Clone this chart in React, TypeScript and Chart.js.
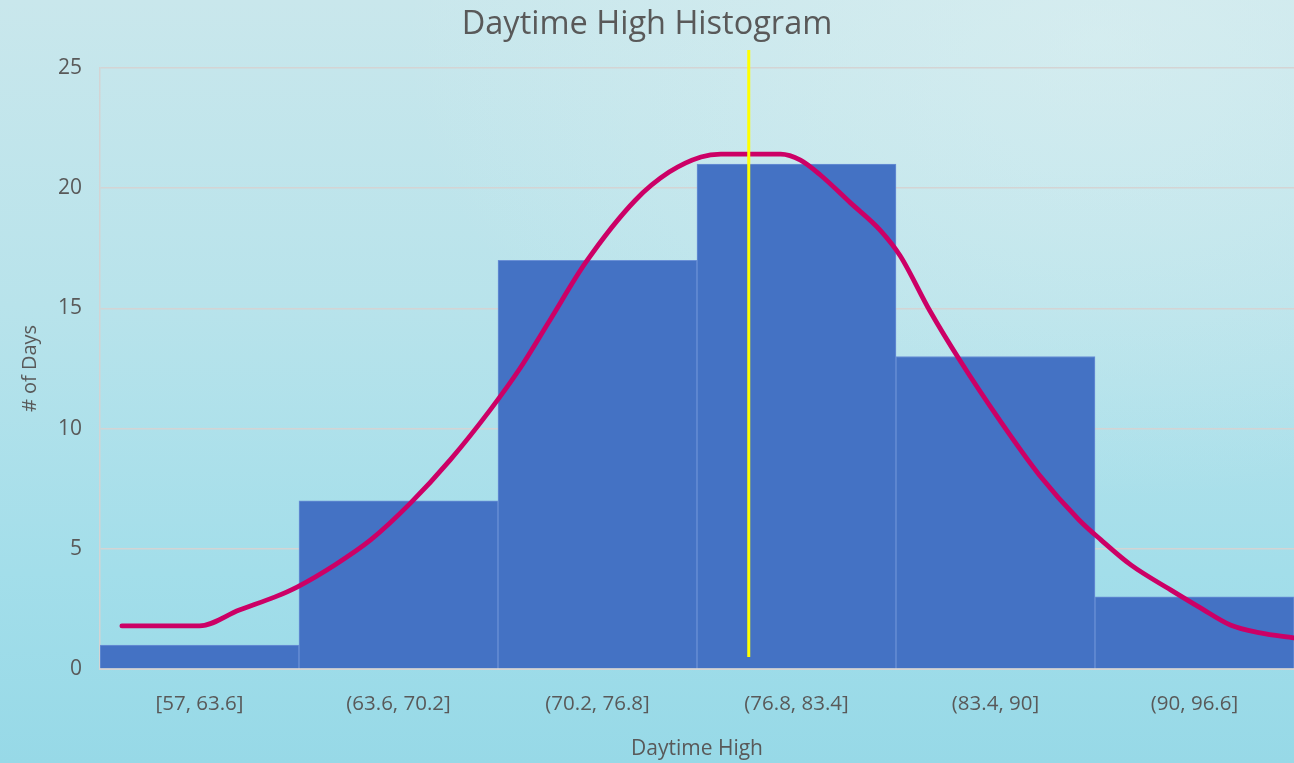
import React, { useEffect, useRef } from "react";
import { Chart, registerables } from "chart.js";

Chart.register(...registerables);

const categories = ["[57, 63.6]", "(63.6, 70.2]", "(70.2, 76.8]", "(76.8, 83.4]", "(83.4, 90]", "(90, 96.6]"];
const counts = [1, 7, 17, 21, 13, 3];

// Hand-drawn normal curve overlay (x in bin units 0..6, y in # of days)
const curveX = [0.11, 0.5, 0.7, 0.88, 0.99, 1.18, 1.36, 1.56, 1.76, 1.96, 2.11, 2.26, 2.44, 2.69, 2.86, 3.02, 3.12, 3.42, 3.52, 3.62, 3.77, 3.92, 4.02, 4.17, 4.32, 4.52, 4.72, 4.92, 5.03, 5.18, 5.38, 5.53, 5.68, 5.83, 6.0];
const curveY = [1.79, 1.79, 2.45, 3.0, 3.41, 4.33, 5.37, 6.9, 8.7, 10.77, 12.5, 14.5, 16.9, 19.5, 20.67, 21.3, 21.42, 21.42, 21.17, 20.55, 19.4, 18.26, 17.2, 14.9, 12.85, 10.36, 8.07, 6.2, 5.37, 4.33, 3.29, 2.54, 1.83, 1.5, 1.29];

// Mean marker line
const meanX = 3.26;
const meanLineY = [0.5, 25.75];

const yTicks = [0, 5, 10, 15, 20, 25];

const FONT = "'Open Sans', 'Noto Sans', sans-serif";
const GREY = "#595959";

export default function App() {
  const ref = useRef<HTMLCanvasElement>(null);

  useEffect(() => {
    if (!ref.current) return;
    const chart = new Chart(ref.current, {
      type: "bar",
      data: {
        labels: categories,
        datasets: [
          {
            type: "bar",
            data: counts,
            backgroundColor: "#4472C4",
            borderColor: "#6A90D6",
            borderWidth: 1,
            barPercentage: 1,
            categoryPercentage: 1,
            grouped: false,
            order: 2,
          } as any,
          {
            type: "line",
            xAxisID: "x2",
            data: curveX.map((x, i) => ({ x, y: curveY[i] })),
            borderColor: "#CC0066",
            borderWidth: 4.8,
            pointRadius: 0,
            cubicInterpolationMode: "monotone",
            borderCapStyle: "round",
            borderJoinStyle: "round",
            fill: false,
            order: 1,
          } as any,
          {
            type: "line",
            xAxisID: "x2",
            data: meanLineY.map((y) => ({ x: meanX, y })),
            borderColor: "#FFFF00",
            borderWidth: 3,
            pointRadius: 0,
            fill: false,
            clip: false,
            order: 0,
          } as any,
        ],
      },
      options: {
        responsive: false,
        animation: false,
        devicePixelRatio: 1,
        layout: { padding: { left: 0, right: 0, top: 0, bottom: 0 } },
        plugins: {
          legend: { display: false },
          tooltip: { enabled: false },
          title: {
            display: true,
            text: "Daytime High Histogram",
            color: GREY,
            font: { family: FONT, size: 32.5, weight: "normal", lineHeight: 1.2 },
            padding: { top: 5, bottom: 24 },
          },
        },
        scales: {
          x: {
            type: "category",
            offset: true,
            grid: { display: false, drawTicks: false },
            border: { display: true, color: "#D4D4D4", width: 2 },
            ticks: { color: GREY, font: { family: FONT, size: 20.5 }, padding: 23, maxRotation: 0 },
            title: {
              display: true,
              text: "Daytime High",
              color: GREY,
              font: { family: FONT, size: 21, lineHeight: 1.2 },
              padding: { top: 0, bottom: 1 },
            },
            afterFit: (s: any) => {
              s.height = 94;
            },
          },
          x2: {
            type: "linear",
            min: 0,
            max: 6,
            offset: false,
            display: false,
          },
          y: {
            min: 0,
            max: 25,
            afterBuildTicks: (s: any) => {
              s.ticks = yTicks.map((v) => ({ value: v }));
            },
            grid: { color: "#D4D4D4", lineWidth: 1.5, drawTicks: false },
            border: { display: true, color: "#D4D4D4", width: 1.5 },
            ticks: { color: GREY, font: { family: FONT, size: 21 }, padding: 18 },
            title: {
              display: true,
              text: "# of Days",
              color: GREY,
              font: { family: FONT, size: 20, lineHeight: 1.2 },
              padding: { top: 18, bottom: 0 },
            },
            afterFit: (s: any) => {
              s.width = 100;
            },
          },
        },
      },
    });
    return () => chart.destroy();
  }, []);

  return (
    <div
      style={{
        position: "fixed",
        left: 0,
        top: 0,
        width: 1294,
        height: 763,
        background:
          "radial-gradient(ellipse at 85% 5%, rgba(225,242,243,0.5) 0%, rgba(225,242,243,0) 45%), linear-gradient(180deg, #C9E7EC 0%, #B8E3EB 40%, #A3DEEA 75%, #97D9E7 100%)",
      }}
    >
      <canvas ref={ref} width={1294} height={763} style={{ display: "block", width: 1294, height: 763 }} />
    </div>
  );
}
